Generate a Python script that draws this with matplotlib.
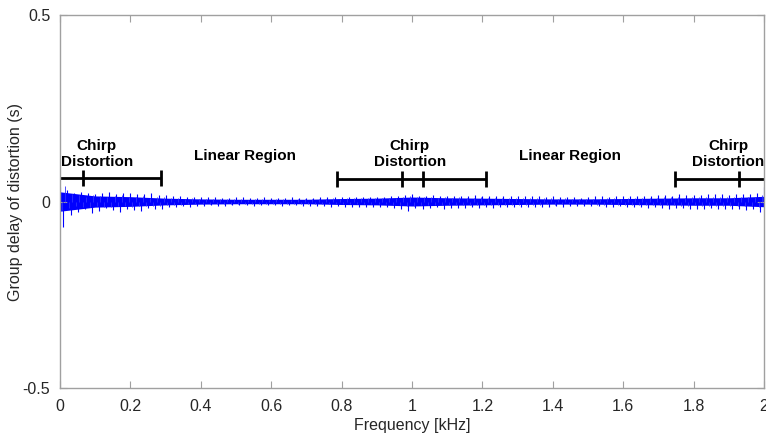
import numpy as np
import matplotlib
matplotlib.use("Agg")
import matplotlib.pyplot as plt

plt.rcParams['font.family'] = ['Liberation Sans', 'DejaVu Sans']

# peak values of the group delay trace, one every 0.01 kHz (signs alternate)
freq_step = 0.01
peaks = [
    0.040, -0.068, 0.030, -0.035, 0.022, -0.028, 0.026, -0.020, 0.024, -0.030, 0.021,
    -0.025, 0.023, -0.018, 0.026, -0.024, 0.020, -0.027, 0.022, -0.019, 0.024,
    -0.022, 0.019, -0.025, 0.021, -0.017, 0.022, -0.020, 0.018, -0.021, 0.017,
    -0.016, 0.015, -0.014, 0.016, -0.013, 0.012, -0.015, 0.013, -0.011, 0.012,
    -0.012, 0.011, -0.010, 0.012, -0.011, 0.010, -0.012, 0.009, -0.010, 0.011,
    -0.010, 0.011, -0.009, 0.010, -0.011, 0.009, -0.010, 0.011, -0.009, 0.010,
    -0.010, 0.009, -0.011, 0.010, -0.009, 0.011, -0.010, 0.009, -0.011, 0.010,
    -0.012, 0.010, -0.013, 0.011, -0.012, 0.012, -0.014, 0.011, -0.013, 0.012,
    -0.014, 0.012, -0.015, 0.013, -0.016, 0.012, -0.014, 0.013, -0.015, 0.012,
    -0.016, 0.013, -0.015, 0.014, -0.017, 0.016, -0.020, 0.018, -0.026, 0.020,
    -0.018, 0.016, -0.019, 0.015, -0.018, 0.017, -0.016, 0.015, -0.019, 0.016,
    -0.017, 0.015, -0.018, 0.016, -0.017, 0.015, -0.016, 0.017, -0.018, 0.015,
    -0.016, 0.015, -0.017, 0.014, -0.016, 0.015, -0.014, 0.016, -0.015, 0.014,
    -0.015, 0.016, -0.014, 0.015, -0.016, 0.014, -0.015, 0.013, -0.014, 0.015,
    -0.013, 0.012, -0.014, 0.011, -0.012, 0.013, -0.011, 0.010, -0.012, 0.011,
    -0.013, 0.014, -0.012, 0.015, -0.014, 0.013, -0.015, 0.014, -0.013, 0.015,
    -0.015, 0.016, -0.014, 0.015, -0.016, 0.014, -0.017, 0.015, -0.016, 0.017,
    -0.018, 0.017, -0.019, 0.016, -0.018, 0.019, -0.017, 0.018, -0.020, 0.017,
    -0.019, 0.018, -0.020, 0.019, -0.018, 0.020, -0.021, 0.019, -0.020, 0.018,
    -0.021, 0.020, -0.019, 0.021, -0.022, 0.019, -0.020, 0.024, -0.028, 0.040,
]

# dense core half-width of the trace, every 0.1 kHz
core_freq = [0.0, 0.1, 0.2, 0.3, 0.4, 0.5, 0.6, 0.7, 0.8, 0.9, 1.0,
             1.1, 1.2, 1.3, 1.4, 1.5, 1.6, 1.7, 1.8, 1.9, 2.0]
core_width = [0.026, 0.015, 0.013, 0.009, 0.007, 0.006, 0.006, 0.006, 0.008, 0.009, 0.012,
              0.010, 0.009, 0.008, 0.007, 0.007, 0.008, 0.009, 0.010, 0.010, 0.014]

# bracket markers above the trace
brackets = [
    {"start": 0.0, "end": 0.287, "ticks": [0.065, 0.287], "y": 0.063},
    {"start": 0.787, "end": 1.21, "ticks": [0.787, 0.972, 1.031, 1.21], "y": 0.060},
    {"start": 1.747, "end": 2.0, "ticks": [1.747, 1.929], "y": 0.060},
]
labels = [
    ("Chirp\nDistortion", 0.105, 0.128),
    ("Linear Region", 0.525, 0.122),
    ("Chirp\nDistortion", 0.994, 0.128),
    ("Linear Region", 1.449, 0.122),
    ("Chirp\nDistortion", 1.898, 0.128),
]

freq = np.arange(len(peaks)) * freq_step
core = np.array(core_width)

fig = plt.figure(figsize=(7.66, 4.37), dpi=100)
ax = fig.add_axes([0.0783, 0.1121, 0.919, 0.8535])

ax.fill_between(core_freq, -core, core, color='#0000ff', lw=0)
ax.vlines(freq, 0, peaks, color='#0000ff', lw=0.8)
ax.vlines(freq + freq_step / 2, 0, [-p * 0.6 for p in peaks], color='#3030ff', lw=0.6)

for b in brackets:
    ax.plot([b["start"], b["end"]], [b["y"], b["y"]], color='black', lw=2,
            solid_capstyle='butt', clip_on=False)
    ax.plot(b["ticks"], [b["y"]] * len(b["ticks"]), ls='none', marker='|',
            ms=11, mew=2, color='black', clip_on=False)

for txt, x, y in labels:
    ax.text(x, y, txt, ha='center', va='center', fontsize=11, fontweight='bold',
            linespacing=1.15)

ax.set_xlim(0, 2)
ax.set_ylim(-0.5, 0.5)
ax.set_xticks(np.arange(0, 2.01, 0.2))
ax.set_xticklabels(['0', '0.2', '0.4', '0.6', '0.8', '1', '1.2', '1.4', '1.6', '1.8', '2'])
ax.set_yticks([-0.5, 0, 0.5])
ax.set_yticklabels(['-0.5', '0', '0.5'])

for s in ax.spines.values():
    s.set_color('#a0a0a0')
    s.set_linewidth(1.0)
ax.tick_params(direction='in', length=5, width=0.8, color='#a0a0a0',
               labelcolor='#262626', labelsize=11.5, top=True, right=True)
ax.tick_params(axis='x', pad=8)
ax.tick_params(axis='y', pad=7)

ax.set_xlabel('Frequency [kHz]', fontsize=11.5, color='#262626', labelpad=3)
ax.set_ylabel('Group delay of distortion (s)', fontsize=11.5, color='#262626', labelpad=0)

fig.savefig('out.png', dpi=100)
